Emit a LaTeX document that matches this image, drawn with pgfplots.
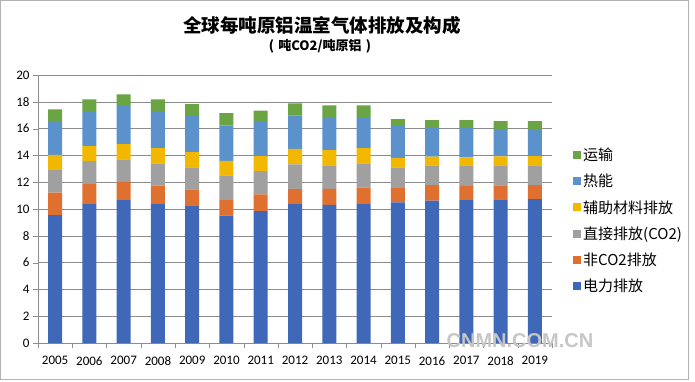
\documentclass[border=0pt]{standalone}
\usepackage{pgfplots}
\pgfplotsset{compat=1.18}
\usepackage{pgfplotstable}
\usepackage{fontspec}
\setmainfont{Carlito}
\newfontfamily\cjk{Noto Sans CJK SC}
\newfontfamily\wm{Liberation Sans}
\definecolor{cElec}{HTML}{4068B8}
\definecolor{cNon}{HTML}{E07030}
\definecolor{cDir}{HTML}{A0A0A0}
\definecolor{cAux}{HTML}{F2B800}
\definecolor{cHeat}{HTML}{5B92CC}
\definecolor{cTrans}{HTML}{6AA443}
\definecolor{cGrid}{HTML}{8C8C8C}

\pgfplotstableread{
x elec non direct aux heat trans
0  9.55 1.67 1.68 1.14 2.51 0.89
1  10.42 1.44 1.71 1.12 2.61 0.89
2  10.67 1.36 1.67 1.14 2.85 0.87
3  10.37 1.37 1.66 1.14 2.76 0.89
4  10.22 1.24 1.64 1.14 2.71 0.87
5  9.50 1.17 1.84 1.09 2.63 0.92
6  9.85 1.24 1.74 1.12 2.53 0.86
7  10.37 1.12 1.84 1.16 2.48 0.92
8  10.30 1.21 1.74 1.14 2.46 0.89
9  10.42 1.17 1.81 1.14 2.31 0.89
10 10.50 1.06 1.54 0.72 2.36 0.52
11 10.62 1.17 1.46 0.65 2.13 0.60
12 10.67 1.04 1.54 0.60 2.18 0.60
13 10.72 1.04 1.49 0.67 2.04 0.59
14 10.74 1.05 1.46 0.70 2.01 0.59
}\data

\begin{document}
\begin{tikzpicture}
\path[use as bounding box] (0pt,0pt) rectangle (695pt,381pt);
\draw[gray!60, line width=0.8pt] (0.8pt,1.5pt) rectangle (688pt,380.3pt);
\node[font=\cjk\bfseries\fontsize{18.5}{20}\selectfont] at (322pt,356pt) {全球每吨原铝温室气体排放及构成};
\node[font=\cjk\bfseries\fontsize{13}{15}\selectfont] at (320pt,335pt) {(\,\,吨CO2/吨原铝\,\,)};
\begin{axis}[
  at={(38pt,38pt)}, anchor=south west,
  scale only axis, width=514pt, height=268pt,
  ybar stacked, bar width=14pt,
  xmin=-0.5, xmax=14.5, ymin=0, ymax=20,
  ytick={0,2,...,20},
  xtick={0,...,14},
  xticklabels={2005,2006,2007,2008,2009,2010,2011,2012,2013,2014,2015,2016,2017,2018,2019},
  minor xtick={-0.5,0.5,...,14.5},
  axis x line*=bottom, axis y line*=left,
  axis line style={cGrid, -},
  ymajorgrids, grid style={cGrid, line width=0.6pt},
  major x tick style={draw=none},
  minor x tick style={cGrid},
  major y tick style={cGrid},
  tick align=outside,
  major tick length=5pt, minor tick length=5pt,
  tick label style={font=\fontsize{13}{15}\selectfont, text=black},
  xticklabel style={yshift=-5pt},
  /pgf/number format/assume math mode=true,
  reverse legend,
  legend cell align=left,
  legend style={at={(1.035,0.457)}, anchor=west, draw=none, fill=none,
    font=\cjk\fontsize{15}{17}\selectfont, row sep=8pt},
  legend image code/.code={\fill[#1] (0pt,-4pt) rectangle (8pt,4pt);},
]
\addplot[fill=cElec, draw=none] table[x=x, y=elec] {\data};
\addplot[fill=cNon, draw=none] table[x=x, y=non] {\data};
\addplot[fill=cDir, draw=none] table[x=x, y=direct] {\data};
\addplot[fill=cAux, draw=none] table[x=x, y=aux] {\data};
\addplot[fill=cHeat, draw=none] table[x=x, y=heat] {\data};
\addplot[fill=cTrans, draw=none] table[x=x, y=trans] {\data};
\legend{电力排放, 非CO2排放, 直接排放(CO2), 辅助材料排放, 热能, 运输}
\end{axis}
\node[font=\wm\bfseries\fontsize{20}{22}\selectfont, text=gray!45] at (520pt,40pt) {CNMN.COM.CN};
\end{tikzpicture}
\end{document}
